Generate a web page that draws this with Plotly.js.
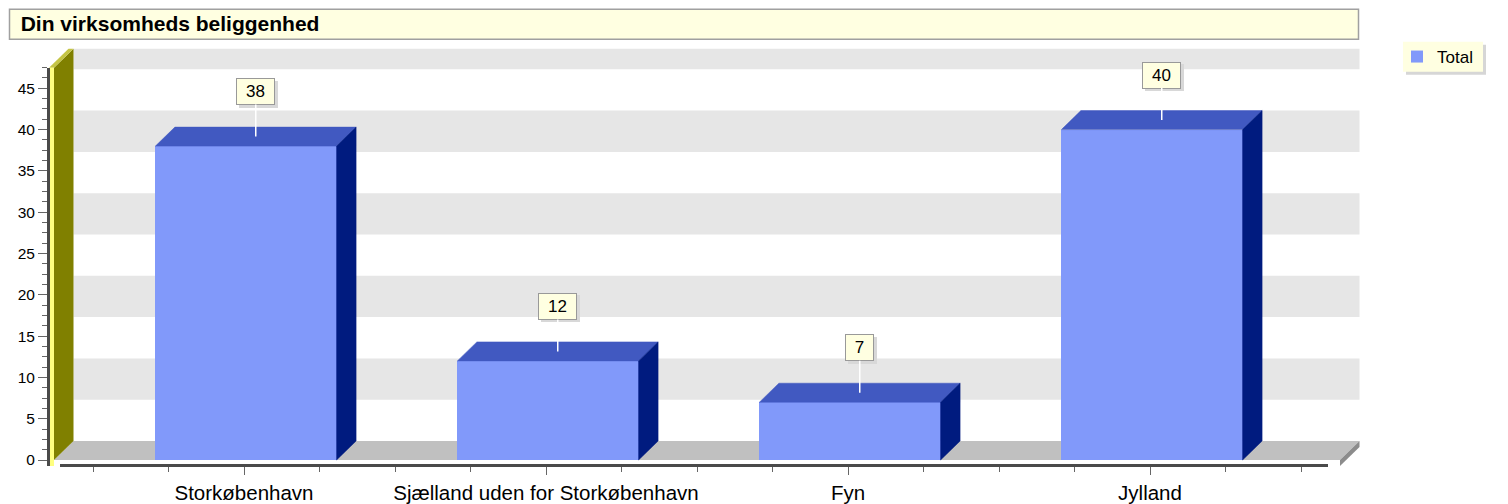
<!DOCTYPE html>
<html><head><meta charset="utf-8">
<script src="https://cdn.plot.ly/plotly-3.0.1.min.js"></script>
<style>html,body{margin:0;padding:0;background:#fff}#chart{width:1508px;height:504px}</style>
</head><body><div id="chart"></div>
<script>
// ---- data ----
const categories = ['Storkøbenhavn', 'Sjælland uden for Storkøbenhavn', 'Fyn', 'Jylland'];
const totals = [38, 12, 7, 40];
const seriesName = 'Total';
const yTickValues = [0, 5, 10, 15, 20, 25, 30, 35, 40, 45];
const chartTitle = 'Din virksomheds beliggenhed';

// ---- pixel geometry helpers (layout only) ----
const W = 1508, H = 504;
const PX0 = 244, PXU = 302, PY0 = 460, PYU = 8.26;
const L = 48, R = 1372, T = 45, B = 478;
const xv = px => (px - PX0) / PXU;
const yv = py => (PY0 - py) / PYU;
const xp = px => (px - L) / (R - L);
const yp = py => (B - py) / (B - T);

const BAR_W = 0.6, DX = 19.5 / PXU, DY = 19 / PYU;
const SHIFT = 2 / PXU;
const Y_TOP = 47.5;
const PAD = 39 / PXU;
const idx = categories.map((c, i) => i);
const xl = -0.5 - PAD, xr = categories.length - 0.5 + PAD;
const WALL = 5 / PXU, FT = 6 / PYU;

const C = {
  front: '#8199fa', top: '#4159c1', side: '#001b7f',
  floor: '#c0c0c0', floorSide: '#8c8c8c', band: '#e6e6e6',
  wallFront: '#ffff80', wallSide: '#808000', wallTop: '#c4c444',
  axis: '#4a4a4a', tick: '#666666', boxFill: '#ffffe1'
};
const FONT = 'Liberation Sans, Arial, sans-serif';

// ---- traces ----
const traces = [];
traces.push({
  type: 'bar', x: idx, y: totals, width: BAR_W, offset: -BAR_W / 2 + SHIFT, name: seriesName,
  marker: { color: C.front, line: { width: 0 } }, hoverinfo: 'skip'
});
function poly(xs, ys, color) {
  traces.push({
    type: 'scatter', mode: 'lines', x: xs.concat([xs[0]]), y: ys.concat([ys[0]]),
    fill: 'toself', fillcolor: color, line: { color: color, width: 0.5 },
    showlegend: false, hoverinfo: 'skip'
  });
}
totals.forEach((v, i) => {
  const a = i - BAR_W / 2 + SHIFT, b = i + BAR_W / 2 + SHIFT;
  poly([a, b, b + DX, a + DX], [v, v, v + DY, v + DY], C.top);
  poly([b, b + DX, b + DX, b], [0, DY, v + DY, v], C.side);
});
traces.push({ type: 'scatter', x: [0], y: [0], xaxis: 'x2', yaxis: 'y2', mode: 'markers',
  marker: { opacity: 0 }, showlegend: false, hoverinfo: 'skip' });

// ---- shapes ----
const shapes = [];
// title box
shapes.push({ type: 'rect', xref: 'paper', yref: 'paper', x0: xp(9.5), x1: xp(1358.5), y0: yp(39.3), y1: yp(9.3),
  fillcolor: C.boxFill, line: { color: '#a0a0a0', width: 1.5 }, layer: 'below' });
// legend box + shadow
shapes.push({ type: 'rect', xref: 'paper', yref: 'paper', x0: xp(1406), x1: xp(1486), y0: yp(74.7), y1: yp(44.7),
  fillcolor: '#d6d6d6', line: { width: 0 }, layer: 'below' });
shapes.push({ type: 'rect', xref: 'paper', yref: 'paper', x0: xp(1403), x1: xp(1483), y0: yp(71.7), y1: yp(41.7),
  fillcolor: C.boxFill, line: { width: 0 }, layer: 'below' });
// back wall bands
yTickValues.forEach(k => {
  if ((k / 5) % 2 === 1) {
    shapes.push({ type: 'rect', xref: 'x', yref: 'y', x0: xl + DX, x1: xr + DX, y0: k + DY, y1: Math.min(k + 5, Y_TOP) + DY,
      fillcolor: C.band, line: { width: 0 }, layer: 'below' });
  }
});
const P = pts => 'M' + pts.map(p => p[0] + ',' + p[1]).join(' L') + ' Z';
shapes.push({ type: 'path', xref: 'x', yref: 'y', path: P([[xl, 0], [xr, 0], [xr + DX, DY], [xl + DX, DY]]),
  fillcolor: C.floor, line: { width: 0 }, layer: 'below' });
shapes.push({ type: 'path', xref: 'x', yref: 'y', path: P([[xr, 0], [xr + DX, DY], [xr + DX, DY - FT], [xr, -FT]]),
  fillcolor: C.floorSide, line: { width: 0 }, layer: 'below' });
shapes.push({ type: 'path', xref: 'x', yref: 'y', path: P([[xl, 0], [xl + DX, DY], [xl + DX, Y_TOP + DY], [xl, Y_TOP]]),
  fillcolor: C.wallSide, line: { width: 0 }, layer: 'below' });
shapes.push({ type: 'path', xref: 'x', yref: 'y', path: P([[xl - WALL, Y_TOP], [xl, Y_TOP], [xl + DX, Y_TOP + DY], [xl - WALL + DX, Y_TOP + DY]]),
  fillcolor: C.wallTop, line: { width: 0 }, layer: 'below' });
shapes.push({ type: 'rect', xref: 'x', yref: 'y', x0: xl - WALL, x1: xl, y0: -FT, y1: Y_TOP,
  fillcolor: C.wallFront, line: { width: 0 }, layer: 'below' });

// ---- annotations (value labels) ----
const annotations = [];
totals.forEach((v, i) => {
  const txt = String(v);
  const w = txt.length * 10 + 15;
  const base = { xref: 'x', yref: 'y', x: i + SHIFT + DX / 2, y: v + DY / 2, text: txt, width: w, height: 23,
    font: { family: FONT, size: 17, color: '#000' }, borderpad: 1, borderwidth: 1 };
  annotations.push(Object.assign({}, base, { showarrow: false, xshift: 2.5, yshift: 45 - 2.5,
    bgcolor: '#d8d8d8', bordercolor: '#d8d8d8', font: { family: FONT, size: 17, color: 'rgba(0,0,0,0)' } }));
  annotations.push(Object.assign({}, base, { showarrow: true, arrowhead: 0, arrowcolor: '#ffffff', arrowwidth: 1.5,
    ax: 0, ay: -45, standoff: 0, bgcolor: C.boxFill, bordercolor: '#999999' }));
});

// ---- minor tick positions ----
const xMinor = [];
for (let q = -0.5; q <= categories.length - 0.5 + 1e-9; q += 0.25) {
  if (Math.abs(q - Math.round(q)) > 1e-6) xMinor.push(q);
}
const yMinor = [];
for (let q = 0; q <= Y_TOP + 1e-9; q += 1.25) {
  if (Math.abs(q / 5 - Math.round(q / 5)) > 1e-6) yMinor.push(q);
}

const layout = {
  width: W, height: H,
  margin: { l: L, r: W - R, t: T, b: H - B, pad: 0 },
  paper_bgcolor: '#ffffff', plot_bgcolor: 'rgba(0,0,0,0)',
  font: { family: FONT, color: '#000' },
  title: { text: '<b>' + chartTitle + '</b>', xref: 'container', yref: 'container',
    x: 20.7 / W, xanchor: 'left', y: 1 - 24 / H, yanchor: 'middle',
    font: { family: FONT, size: 21, color: '#000' } },
  showlegend: true,
  legend: { x: xp(1397), y: yp(39), xanchor: 'left', yanchor: 'top', bgcolor: 'rgba(0,0,0,0)',
    borderwidth: 0, font: { family: FONT, size: 17, color: '#000' } },
  bargap: 0,
  xaxis: { domain: [0, 1], range: [xv(L), xv(R)], visible: false, fixedrange: true },
  yaxis: { domain: [0, 1], range: [yv(B), yv(T)], visible: false, fixedrange: true },
  xaxis2: { domain: [xp(60), xp(1328)], range: [xv(60), xv(1328)], anchor: 'free', position: yp(465.3), side: 'bottom',
    showline: true, linecolor: C.axis, linewidth: 3, ticks: 'outside', ticklen: 8, tickwidth: 1, tickcolor: C.tick,
    tickmode: 'array', tickvals: idx, ticktext: categories, tickfont: { family: FONT, size: 20.5, color: '#000' },
    minor: { tickmode: 'array', tickvals: xMinor, ticks: 'outside', ticklen: 5, tickwidth: 1, tickcolor: C.tick },
    showgrid: false, zeroline: false, fixedrange: true },
  yaxis2: { domain: [yp(466), yp(PY0 - Y_TOP * PYU)], range: [yv(466), Y_TOP], anchor: 'free', position: 0, side: 'left',
    showline: true, linecolor: C.axis, linewidth: 3, ticks: 'outside', ticklen: 9, tickwidth: 1, tickcolor: C.tick,
    tickmode: 'array', tickvals: yTickValues, tickfont: { family: FONT, size: 15.5, color: '#000' },
    minor: { tickmode: 'array', tickvals: yMinor, ticks: 'outside', ticklen: 5, tickwidth: 1, tickcolor: C.tick },
    showgrid: false, zeroline: false, fixedrange: true },
  shapes: shapes, annotations: annotations, hovermode: false
};
Plotly.newPlot('chart', traces, layout, { staticPlot: true, displayModeBar: false });
</script></body></html>
